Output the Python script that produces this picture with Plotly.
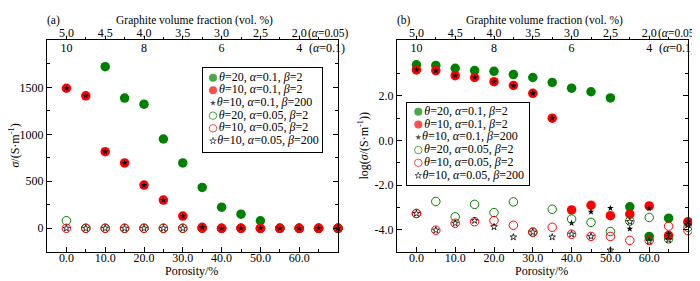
import plotly.graph_objects as go

# ---------------- data ----------------
porosity = [0, 5, 10, 15, 20, 25, 30, 35, 40, 45, 50, 55, 60, 65, 70]

series_names = [
    "<i>θ</i>=20, <i>α</i>=0.1, <i>β</i>=2",
    "<i>θ</i>=10, <i>α</i>=0.1, <i>β</i>=2",
    "<i>θ</i>=10, <i>α</i>=0.1, <i>β</i>=200",
    "<i>θ</i>=20, <i>α</i>=0.05, <i>β</i>=2",
    "<i>θ</i>=10, <i>α</i>=0.05, <i>β</i>=2",
    "<i>θ</i>=10, <i>α</i>=0.05, <i>β</i>=200",
]

# Panel (a): sigma / (S·m^-1)
sigma_t20_a01_b2 = [None, None, 1720, 1385, 1320, 950, 695, 435, 225, 150, 80, 0, 0, 0, 0]
sigma_t10_a01_b2 = [1490, 1410, 815, 695, 460, 300, 130, 10, 0, 0, 0, 0, 0, 0, 0]
sigma_t10_a01_b200 = [1490, 1410, 815, 695, 460, 300, 130, 10, 0, 0, 0, 0, 0, 0, 0]
sigma_t20_a005_b2 = [80, 0, 0, 0, 0, 0, 0, 0, 0, 0, 0, 0, 0, 0, 0]
sigma_t10_a005_b2 = [0, 0, 0, 0, 0, 0, 0, 0, 0, 0, 0, 0, 0, 0, 0]
sigma_t10_a005_b200 = [0, 0, 0, 0, 0, 0, 0, 0, 0, 0, 0, 0, 0, 0, 0]

# Panel (b): log(sigma / (S·m^-1))
log_t20_a01_b2 = [3.40, 3.37, 3.24, 3.14, 3.11, 2.96, 2.83, 2.61, 2.35, 2.19, 1.91, -2.98, -4.31, -3.49, -3.68]
log_t10_a01_b2 = [3.17, 3.14, 2.91, 2.83, 2.64, 2.47, 2.12, 1.00, -3.12, -2.91, -3.38, -3.31, -2.94, -4.27, -3.65]
log_t10_a01_b200 = [3.17, 3.14, 2.91, 2.83, 2.64, 2.47, 2.12, 1.00, -3.71, -3.21, -3.04, -3.97, -3.04, -4.19, -3.65]
log_t20_a005_b2 = [-3.28, -2.74, -3.43, -2.87, -3.24, -2.76, -4.12, -3.09, -3.53, -3.68, -4.09, -3.62, -3.46, -4.42, -3.90]
log_t10_a005_b2 = [-3.28, -4.03, -3.72, -3.65, -3.60, -3.81, -4.12, -3.90, -4.21, -4.31, -4.31, -4.49, -4.49, -3.85, -4.05]
log_t10_a005_b200 = [-3.28, -4.03, -3.72, -3.60, -3.88, -4.34, -4.12, -4.34, -4.21, -4.31, -4.93, -3.65, -4.53, -4.46, -3.79]

# tick labels
porosity_ticks = [0, 10, 20, 30, 40, 50, 60]
porosity_ticktext = ["0.0", "10.0", "20.0", "30.0", "40.0", "50.0", "60.0"]
graphite_a005_ticktext = ["5.0", "4.5", "4.0", "3.5", "3.0", "2.5", "2.0"]
graphite_a01_ticks = [0, 20, 40, 60]
graphite_a01_ticktext = ["10", "8", "6", "4"]
sigma_ticks = [0, 500, 1000, 1500, 2000]
sigma_ticktext = ["0", "500", "1000", "1500", "2000"]
log_ticks = [-4, -2, 0, 2, 4]
log_ticktext = ["-4.0", "-2.0", "0.0", "2.0", "4.0"]

# ---------------- style ----------------
# The page body has an 8px margin; positions below are given in window pixels.
OFF = 8
FW, FH = 700 - OFF, 281 - OFF
FAM = "Liberation Serif, Times New Roman, Times, serif"
FONT = dict(family=FAM, size=12, color="black")
TITLE_FONT = dict(family=FAM, size=11.5, color="black")
GREEN, RED, BLACK = "#008000", "#ff0000", "#000000"

styles = [
    dict(symbol="circle", color=GREEN, size=9.5, line=dict(width=0)),
    dict(symbol="circle", color=RED, size=9.5, line=dict(width=0)),
    dict(symbol="star", color=BLACK, size=5, line=dict(width=0)),
    dict(symbol="circle-open", color=GREEN, size=8.5, line=dict(width=1, color=GREEN)),
    dict(symbol="circle-open", color=RED, size=8.5, line=dict(width=1, color=RED)),
    dict(symbol="star-open", color=BLACK, size=5, line=dict(width=0.8, color=BLACK)),
]
legend_sizes = [8, 8, 4.5, 7.5, 7.5, 5]


def px_x(x):
    return (x - OFF) / FW


def px_y(y):
    return 1 - (y - OFF) / FH


fig = go.Figure()

panel_a = [sigma_t20_a01_b2, sigma_t10_a01_b2, sigma_t10_a01_b200,
           sigma_t20_a005_b2, sigma_t10_a005_b2, sigma_t10_a005_b200]
panel_b = [log_t20_a01_b2, log_t10_a01_b2, log_t10_a01_b200,
           log_t20_a005_b2, log_t10_a005_b2, log_t10_a005_b200]

# panel (a): open series underneath the filled ones
for i in [3, 4, 5, 0, 1, 2]:
    fig.add_trace(go.Scatter(x=porosity, y=panel_a[i], mode="markers", name=series_names[i],
                             marker=styles[i], xaxis="x", yaxis="y", cliponaxis=False,
                             showlegend=False))
for i in range(6):
    fig.add_trace(go.Scatter(x=porosity, y=panel_b[i], mode="markers", name=series_names[i],
                             marker=styles[i], xaxis="x2", yaxis="y2", cliponaxis=False,
                             showlegend=False))

# empty carrier traces so the secondary (top) axes get drawn
for xa, ya in [("x3", "y"), ("x5", "y"), ("x4", "y2"), ("x6", "y2")]:
    fig.add_trace(go.Scatter(x=porosity_ticks, y=[None] * len(porosity_ticks), mode="markers",
                             xaxis=xa, yaxis=ya, showlegend=False, hoverinfo="skip"))

# legend boxes (one per panel), drawn as small boxed subplots
idx = list(range(len(series_names)))
for xa, ya in [("x7", "y7"), ("x8", "y8")]:
    fig.add_trace(go.Scatter(
        x=[0] * len(idx), y=idx, mode="markers+text", text=series_names,
        textposition="middle right", textfont=FONT,
        marker=dict(symbol=[s["symbol"] for s in styles],
                    color=[s["color"] for s in styles],
                    size=legend_sizes,
                    line=dict(width=[s["line"]["width"] for s in styles],
                              color=[s["color"] for s in styles])),
        xaxis=xa, yaxis=ya, cliponaxis=False, showlegend=False, hoverinfo="skip"))

# ---------------- axes ----------------
def axis(**kw):
    d = dict(showline=True, linecolor="black", linewidth=1, showgrid=False, zeroline=False,
             tickfont=FONT, tickcolor="black", ticks="inside", ticklen=5, tickwidth=1,
             fixedrange=True)
    d.update(kw)
    return d


minor_vals = [5, 15, 25, 35, 45, 55, 65]
minor_x = dict(tickvals=minor_vals, ticks="inside", ticklen=3, tickcolor="black")

dom_a = [px_x(47), px_x(338)]
dom_b = [px_x(397), px_x(688)]
dom_y = [px_y(251), px_y(34)]
XR = [-5, 70]

layout_axes = {}
for k, (dom, xa, ya, ytv, ytt, yr, yminor) in enumerate([
        (dom_a, "x", "y", sigma_ticks, sigma_ticktext, [-250, 2000], [250, 750, 1250, 1750]),
        (dom_b, "x2", "y2", log_ticks, log_ticktext, [-5, 4.5], [-3, -1, 1, 3])]):
    xname = "xaxis" if xa == "x" else "xaxis2"
    yname = "yaxis" if ya == "y" else "yaxis2"
    layout_axes[xname] = axis(domain=dom, range=XR, anchor=ya, tickmode="array",
                              tickvals=porosity_ticks, ticktext=porosity_ticktext,
                              minor=minor_x, mirror=True, ticklabelstandoff=-5)
    layout_axes[yname] = axis(domain=dom_y, range=yr, anchor=xa, tickmode="array",
                              tickvals=ytv, ticktext=ytt, mirror="ticks",
                              minor=dict(tickvals=yminor, ticks="inside", ticklen=3,
                                         tickcolor="black"))
    # top outer axis: graphite fraction for alpha = 0.05
    top_outer = "xaxis3" if k == 0 else "xaxis4"
    layout_axes[top_outer] = axis(range=XR, overlaying=xa, side="top", anchor=ya,
                                  tickmode="array", tickvals=porosity_ticks,
                                  ticktext=graphite_a005_ticktext, ticks="outside", ticklen=3,
                                  ticklabelstandoff=-5,
                                  minor=dict(tickvals=minor_vals, ticks="outside", ticklen=2,
                                             tickcolor="black"))
    # top inner axis: graphite fraction for alpha = 0.1
    top_inner = "xaxis5" if k == 0 else "xaxis6"
    layout_axes[top_inner] = axis(range=XR, overlaying=xa, side="top", anchor=ya,
                                  tickmode="array", tickvals=graphite_a01_ticks,
                                  ticktext=graphite_a01_ticktext, ticks="",
                                  ticklabelposition="inside", showline=False)

# legend box axes
leg_boxes = [
    ("xaxis7", "yaxis7", "x7", "y7", (203, 322), (62, 149), 10.0, 10.3, 13.0),
    ("xaxis8", "yaxis8", "x8", "y8", (407, 529), (98, 182), 11.3, 9.3, 13.1),
]
for xn, yn, xa, ya, (x0, x1), (y0, y1), mx, my, step in leg_boxes:
    wpx, hpx = x1 - x0, y1 - y0
    layout_axes[xn] = dict(domain=[px_x(x0), px_x(x1)], range=[-mx, wpx - mx], anchor=ya,
                           showline=True, mirror=True, linecolor="black", linewidth=1,
                           showticklabels=False, ticks="", showgrid=False, zeroline=False,
                           fixedrange=True)
    layout_axes[yn] = dict(domain=[px_y(y1), px_y(y0)],
                           range=[(hpx - my) / step, -my / step], anchor=xa,
                           showline=True, mirror=True, linecolor="black", linewidth=1,
                           showticklabels=False, ticks="", showgrid=False, zeroline=False,
                           fixedrange=True)

# ---------------- annotations ----------------
ann = []


def add_text(text, x, y, font=FONT, **kw):
    d = dict(text=text, x=px_x(x), y=px_y(y), xref="paper", yref="paper", showarrow=False,
             font=font, xanchor="center", yanchor="middle")
    d.update(kw)
    ann.append(d)


for off, label, ytitle, ytx in [(0, "(a)", "<i>σ</i>/(S·m<sup>-1</sup>)", 15),
                                (350, "(b)", "log(<i>σ</i>/(S·m<sup>-1</sup>))", 364)]:
    add_text(label, 54 + off, 14, font=TITLE_FONT)
    add_text("Graphite volume fraction (vol. %)", 194 + off, 14, font=TITLE_FONT)
    add_text("(<i>α</i>=0.05)", 306 + off, 27, font=TITLE_FONT, xanchor="left")
    add_text("(<i>α</i>=0.1)", 307 + off, 42, xanchor="left")
    add_text("Porosity/%", 191 + off, 271)
    add_text(ytitle, ytx, 142, textangle=-90)

fig.update_layout(
    width=FW, height=FH, margin=dict(l=0, r=0, t=0, b=0),
    paper_bgcolor="white", plot_bgcolor="white",
    font=FONT, showlegend=False, annotations=ann,
    **layout_axes,
)

fig.write_html("out.html")
